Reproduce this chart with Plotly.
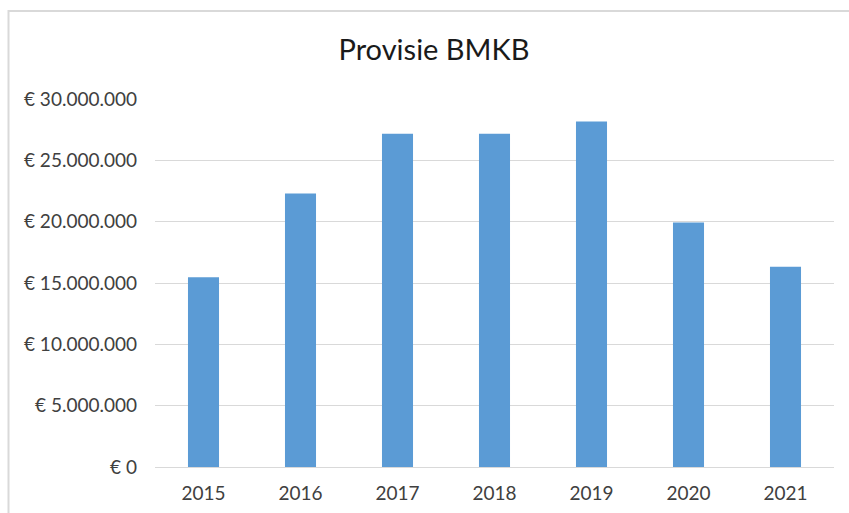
import plotly.graph_objects as go

# Commission (provisie) per year for the BMKB scheme, in euros
years = ["2015", "2016", "2017", "2018", "2019", "2020", "2021"]
provisie = [15460000, 22300000, 27160000, 27160000, 28170000, 19940000, 16330000]

y_ticks = [0, 5000000, 10000000, 15000000, 20000000, 25000000, 30000000]
y_tick_labels = ["€ 0", "€ 5.000.000", "€ 10.000.000", "€ 15.000.000",
                 "€ 20.000.000", "€ 25.000.000", "€ 30.000.000"]

W, H = 849, 513
ML, MR, MT, MB = 155, 15, 99, 46
pw, ph = W - ML - MR, H - MT - MB

text_color = "#404040"
font_family = "Lato, 'Open Sans', sans-serif"

fig = go.Figure(
    go.Bar(
        x=years,
        y=provisie,
        marker=dict(color="#5B9BD5", line=dict(width=0)),
    )
)

# outer chart-area border (runs off the right and bottom of the page)
fig.add_shape(
    type="rect", xref="paper", yref="paper",
    x0=(8.5 - ML) / pw, x1=(862 - ML) / pw,
    y0=-(530 - (H - MB)) / ph, y1=1 + (MT - 11) / ph,
    line=dict(color="#D9D9D9", width=2),
    fillcolor="rgba(0,0,0,0)", layer="below",
)

fig.update_layout(
    width=W, height=H,
    margin=dict(l=ML, r=MR, t=MT, b=MB, pad=0, autoexpand=False),
    paper_bgcolor="white", plot_bgcolor="white",
    bargap=0.68,
    showlegend=False,
    font=dict(family=font_family, color=text_color, size=19),
    title=dict(
        text="Provisie BMKB",
        x=434 / W, xanchor="center",
        y=1 - 50 / H, yanchor="middle",
        font=dict(family=font_family, size=29, color="#1a1a1a"),
    ),
    xaxis=dict(
        automargin=False,
        showgrid=False, showline=False, zeroline=False,
        ticks="", ticklabelstandoff=13,
        tickfont=dict(size=19, color=text_color),
    ),
    yaxis=dict(
        automargin=False,
        range=[0, 30000000],
        tickvals=y_ticks, ticktext=y_tick_labels,
        showgrid=True, gridcolor="#D9D9D9", gridwidth=1.3,
        zeroline=True, zerolinecolor="#D9D9D9", zerolinewidth=1.3,
        showline=False, ticks="", ticklabelstandoff=17,
        tickfont=dict(size=19, color=text_color),
    ),
)

fig.write_html("out.html")
